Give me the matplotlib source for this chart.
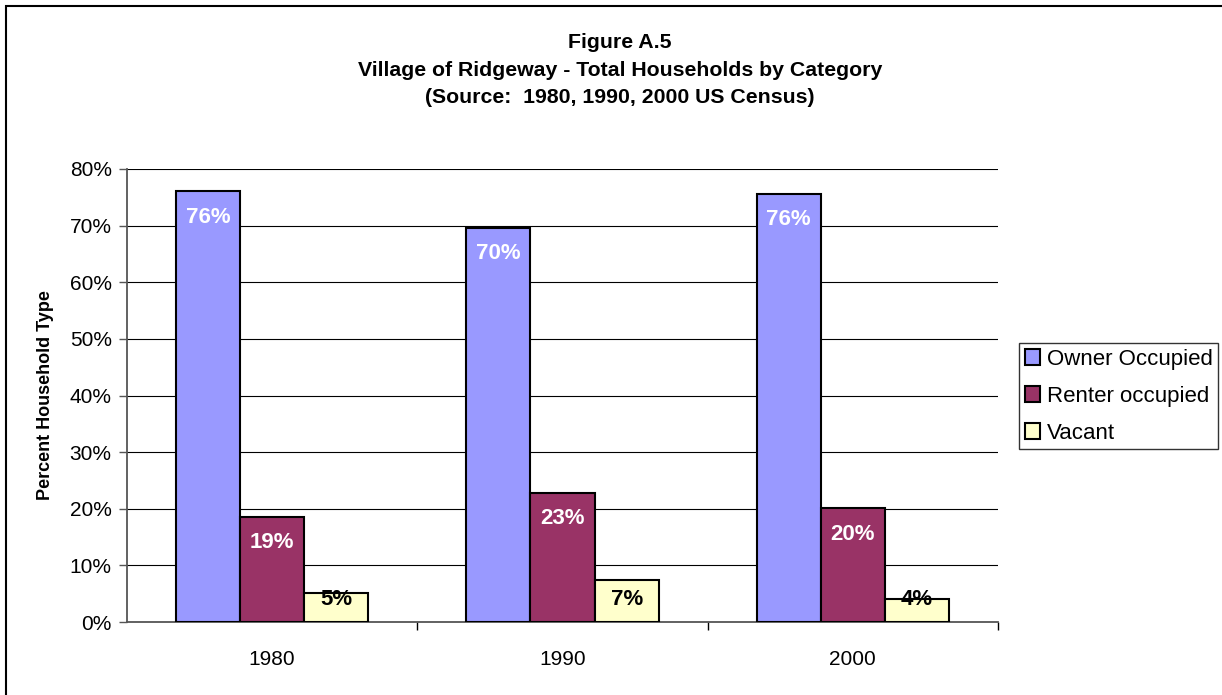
import matplotlib
matplotlib.use("Agg")
import matplotlib.pyplot as plt
import numpy as np
from matplotlib.patches import Rectangle

plt.rcParams['font.family'] = ['Liberation Sans', 'DejaVu Sans']

# data
years = ['1980', '1990', '2000']
series = ['Owner Occupied', 'Renter occupied', 'Vacant']
owner = [76.1, 69.6, 75.6]
renter = [18.6, 22.8, 20.1]
vacant = [5.1, 7.4, 4.1]
labels_owner = ['76%', '70%', '76%']
labels_renter = ['19%', '23%', '20%']
labels_vacant = ['5%', '7%', '4%']
colors = ['#9999FF', '#993366', '#FFFFCC']
text_colors = ['white', 'white', 'black']

fig = plt.figure(figsize=(12.22, 6.95), dpi=100)
ax = fig.add_axes([127/1222, 1 - 622/695, (998-127)/1222, (622-169)/695])

# outer frame of the chart (right / bottom edges fall outside the picture)
fig.add_artist(Rectangle((6/1222, -0.1), 1.2, 1 - 6/695 + 0.1, transform=fig.transFigure,
                         fill=False, edgecolor='black', linewidth=1.5))

x = np.arange(len(years))
w = 0.221
all_vals = [owner, renter, vacant]
all_labels = [labels_owner, labels_renter, labels_vacant]
for i, (vals, labs) in enumerate(zip(all_vals, all_labels)):
    xs = x + (i - 1) * w
    ax.bar(xs, vals, width=w, color=colors[i], edgecolor='black', linewidth=1.5,
           label=series[i], zorder=3)
    for xi, v, lab in zip(xs, vals, labs):
        # label sits inside the top of the bar, but not lower than near the axis
        ly = max(v - 4.6, 4.0)
        ax.text(xi, ly, lab, ha='center', va='center', color=text_colors[i],
                fontsize=16, fontweight='bold', zorder=4)

ax.set_xlim(-0.5, 2.5)
ax.set_ylim(0, 80)
ax.set_yticks(np.arange(0, 81, 10))
ax.set_yticklabels([f'{t}%' for t in range(0, 81, 10)])
ax.yaxis.grid(True, color='black', linewidth=0.8, zorder=0)
ax.set_axisbelow(True)

ax.set_xticks(x)
ax.set_xticklabels(years)
ax.set_xticks([0.5, 1.5, 2.5], minor=True)
ax.tick_params(axis='x', which='major', length=0, pad=20, labelsize=15)
ax.tick_params(axis='x', which='minor', length=6, width=1, color='black', direction='out')
ax.tick_params(axis='y', length=6, width=1, pad=5, labelsize=15, color='#555555')

for s in ['top', 'right']:
    ax.spines[s].set_visible(False)
for s in ['left', 'bottom']:
    ax.spines[s].set_color('#555555')
    ax.spines[s].set_linewidth(1.3)

ax.set_ylabel('Percent Household Type', fontsize=13, fontweight='bold')
ax.yaxis.set_label_coords(-73/871, 0.5)

fig.text(620/1222, 1 - 70/695, 'Figure A.5\nVillage of Ridgeway - Total Households by Category\n(Source:  1980, 1990, 2000 US Census)',
         ha='center', va='center', fontsize=15.3, fontweight='bold', linespacing=1.55)

leg = fig.legend(loc='upper left', bbox_to_anchor=(1019/1222, 1 - 343/695), fontsize=16,
                 frameon=True, fancybox=False, edgecolor='black', handlelength=0.7,
                 handleheight=0.7, handletextpad=0.3, borderpad=0.25, labelspacing=0.72,
                 borderaxespad=0)
leg.get_frame().set_linewidth(1.0)

fig.savefig('out.png', dpi=100)
